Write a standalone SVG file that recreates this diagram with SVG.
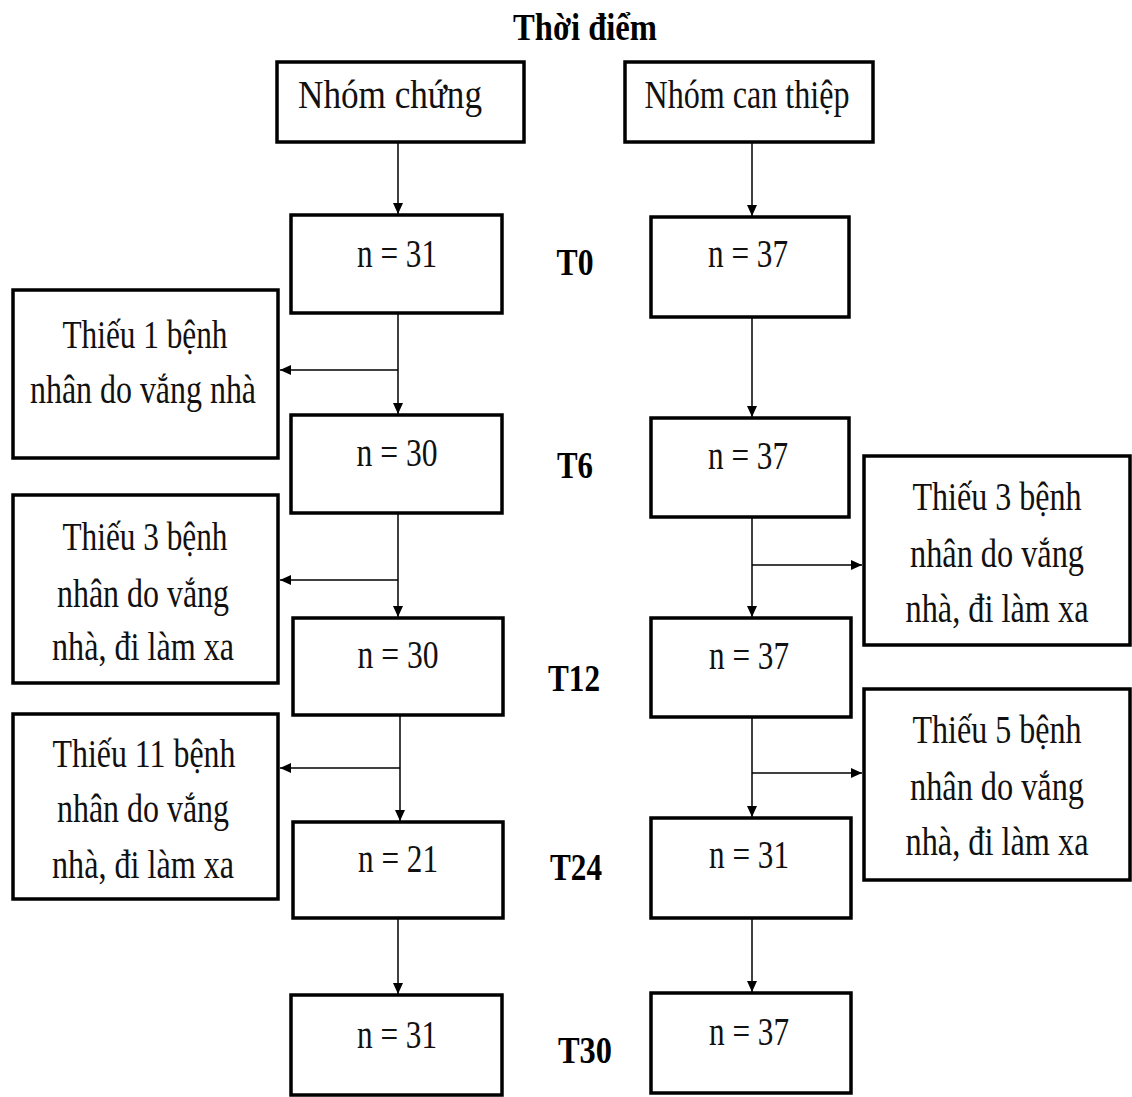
<svg xmlns="http://www.w3.org/2000/svg" width="1132" height="1097" viewBox="0 0 1132 1097">
<style>
.box{fill:#fff;stroke:#000;stroke-width:3.5}
.t{font-family:"Liberation Serif","Times New Roman",serif;font-size:40px;fill:#111;text-anchor:middle}
.b{font-family:"Liberation Serif","Times New Roman",serif;font-size:38px;font-weight:bold;fill:#000;text-anchor:middle}
.c{stroke:#000;stroke-width:1.5;fill:none}
</style>
<defs>
<marker id="ah" markerWidth="12" markerHeight="12" refX="11" refY="5" orient="auto" markerUnits="userSpaceOnUse">
<path d="M0,0 L11,5 L0,10 Z" fill="#000"/>
</marker>
</defs>
<rect width="1132" height="1097" fill="#fff"/>
<text class="b" x="585" y="40" textLength="144" lengthAdjust="spacingAndGlyphs">Thời  điểm</text>
<g id="connectors">
<line class="c" x1="398" y1="142" x2="398" y2="214" marker-end="url(#ah)"/>
<line class="c" x1="752" y1="142" x2="752" y2="216" marker-end="url(#ah)"/>
<line class="c" x1="398" y1="313" x2="398" y2="414" marker-end="url(#ah)"/>
<line class="c" x1="398" y1="370" x2="280" y2="370" marker-end="url(#ah)"/>
<line class="c" x1="752" y1="317" x2="752" y2="417" marker-end="url(#ah)"/>
<line class="c" x1="398" y1="513" x2="398" y2="617" marker-end="url(#ah)"/>
<line class="c" x1="398" y1="580" x2="280" y2="580" marker-end="url(#ah)"/>
<line class="c" x1="752" y1="517" x2="752" y2="617" marker-end="url(#ah)"/>
<line class="c" x1="752" y1="565" x2="862" y2="565" marker-end="url(#ah)"/>
<line class="c" x1="400" y1="715" x2="400" y2="821" marker-end="url(#ah)"/>
<line class="c" x1="400" y1="768" x2="280" y2="768" marker-end="url(#ah)"/>
<line class="c" x1="752" y1="717" x2="752" y2="817" marker-end="url(#ah)"/>
<line class="c" x1="752" y1="773" x2="862" y2="773" marker-end="url(#ah)"/>
<line class="c" x1="398" y1="918" x2="398" y2="994" marker-end="url(#ah)"/>
<line class="c" x1="752" y1="918" x2="752" y2="992" marker-end="url(#ah)"/>
</g>
<g id="nhom-chung"><rect class="box" x="277" y="62" width="247" height="80"/><text class="t" x="390" y="108" textLength="184" lengthAdjust="spacingAndGlyphs">Nhóm chứng</text></g>
<g id="nhom-can-thiep"><rect class="box" x="625" y="62" width="248" height="80"/><text class="t" x="747" y="108" textLength="205" lengthAdjust="spacingAndGlyphs">Nhóm can thiệp</text></g>

<g id="l-t0"><rect class="box" x="291" y="215" width="211" height="98"/><text class="t" x="397" y="267" textLength="80" lengthAdjust="spacingAndGlyphs">n = 31</text></g>
<g id="r-t0"><rect class="box" x="651" y="217" width="198" height="100"/><text class="t" x="748" y="267" textLength="80" lengthAdjust="spacingAndGlyphs">n = 37</text></g>
<text class="b" x="575" y="275" textLength="37" lengthAdjust="spacingAndGlyphs">T0</text>

<g id="l-miss1"><rect class="box" x="13" y="290" width="265" height="168"/>
<text class="t" x="145" y="348" textLength="165" lengthAdjust="spacingAndGlyphs">Thiếu 1 bệnh</text>
<text class="t" x="143" y="403" textLength="226" lengthAdjust="spacingAndGlyphs">nhân do vắng nhà</text></g>

<g id="l-t6"><rect class="box" x="291" y="415" width="211" height="98"/><text class="t" x="397" y="466" textLength="81" lengthAdjust="spacingAndGlyphs">n = 30</text></g>
<g id="r-t6"><rect class="box" x="651" y="418" width="198" height="99"/><text class="t" x="748" y="469" textLength="80" lengthAdjust="spacingAndGlyphs">n = 37</text></g>
<text class="b" x="575" y="478" textLength="36" lengthAdjust="spacingAndGlyphs">T6</text>

<g id="r-miss3"><rect class="box" x="864" y="456" width="266" height="189"/>
<text class="t" x="997" y="510" textLength="169" lengthAdjust="spacingAndGlyphs">Thiếu 3 bệnh</text>
<text class="t" x="997" y="567" textLength="174" lengthAdjust="spacingAndGlyphs">nhân do vắng</text>
<text class="t" x="997" y="622" textLength="183" lengthAdjust="spacingAndGlyphs">nhà, đi làm xa</text></g>

<g id="l-miss3"><rect class="box" x="13" y="495" width="265" height="188"/>
<text class="t" x="145" y="550" textLength="165" lengthAdjust="spacingAndGlyphs">Thiếu 3 bệnh</text>
<text class="t" x="143" y="607" textLength="172" lengthAdjust="spacingAndGlyphs">nhân do vắng</text>
<text class="t" x="143" y="660" textLength="182" lengthAdjust="spacingAndGlyphs">nhà, đi làm xa</text></g>

<g id="l-t12"><rect class="box" x="293" y="618" width="210" height="97"/><text class="t" x="398" y="668" textLength="81" lengthAdjust="spacingAndGlyphs">n = 30</text></g>
<g id="r-t12"><rect class="box" x="651" y="618" width="200" height="99"/><text class="t" x="749" y="669" textLength="80" lengthAdjust="spacingAndGlyphs">n = 37</text></g>
<text class="b" x="574" y="691" textLength="52" lengthAdjust="spacingAndGlyphs">T12</text>

<g id="r-miss5"><rect class="box" x="864" y="689" width="266" height="191"/>
<text class="t" x="997" y="743" textLength="169" lengthAdjust="spacingAndGlyphs">Thiếu 5 bệnh</text>
<text class="t" x="997" y="800" textLength="174" lengthAdjust="spacingAndGlyphs">nhân do vắng</text>
<text class="t" x="997" y="855" textLength="183" lengthAdjust="spacingAndGlyphs">nhà, đi làm xa</text></g>

<g id="l-miss11"><rect class="box" x="13" y="714" width="265" height="185"/>
<text class="t" x="144" y="767" textLength="183" lengthAdjust="spacingAndGlyphs">Thiếu 11 bệnh</text>
<text class="t" x="143" y="822" textLength="172" lengthAdjust="spacingAndGlyphs">nhân do vắng</text>
<text class="t" x="143" y="878" textLength="182" lengthAdjust="spacingAndGlyphs">nhà, đi làm xa</text></g>

<g id="l-t24"><rect class="box" x="293" y="822" width="210" height="96"/><text class="t" x="398" y="872" textLength="80" lengthAdjust="spacingAndGlyphs">n = 21</text></g>
<g id="r-t24"><rect class="box" x="651" y="818" width="200" height="100"/><text class="t" x="749" y="868" textLength="80" lengthAdjust="spacingAndGlyphs">n = 31</text></g>
<text class="b" x="576" y="880" textLength="52" lengthAdjust="spacingAndGlyphs">T24</text>

<g id="l-t30"><rect class="box" x="291" y="995" width="211" height="100"/><text class="t" x="397" y="1048" textLength="80" lengthAdjust="spacingAndGlyphs">n = 31</text></g>
<g id="r-t30"><rect class="box" x="651" y="993" width="200" height="100"/><text class="t" x="749" y="1045" textLength="80" lengthAdjust="spacingAndGlyphs">n = 37</text></g>
<text class="b" x="585" y="1063" textLength="54" lengthAdjust="spacingAndGlyphs">T30</text>
</svg>
